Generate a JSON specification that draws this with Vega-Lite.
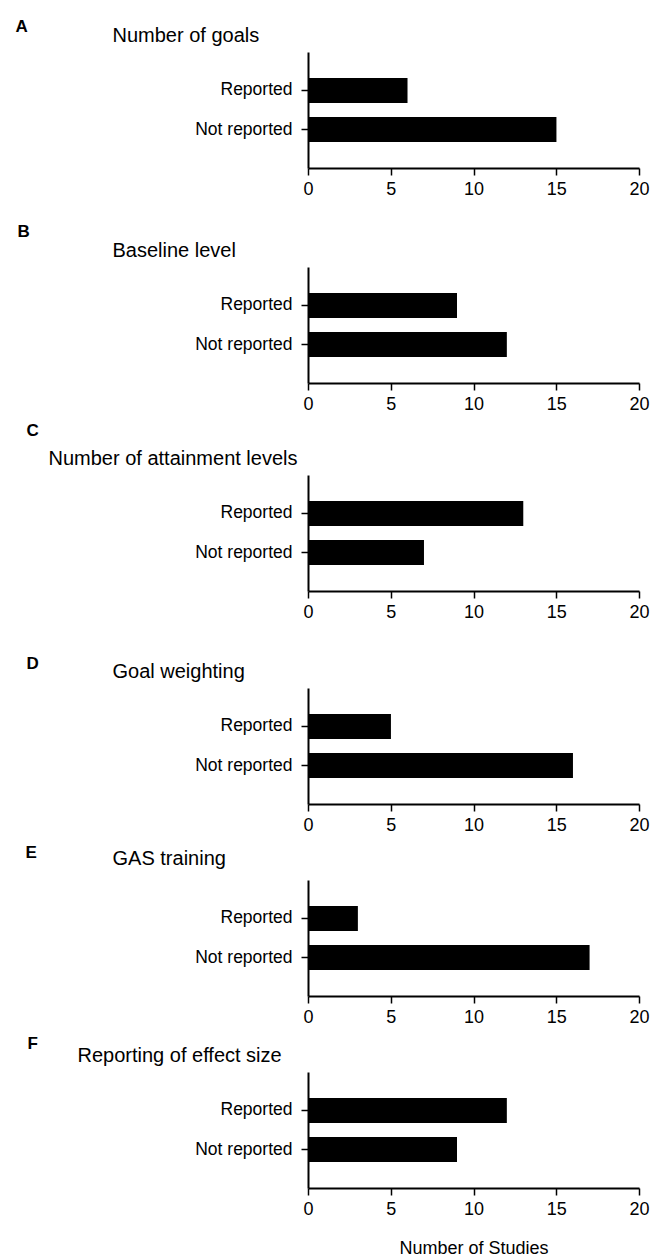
{
  "$schema": "https://vega.github.io/schema/vega-lite/v6.json",
  "padding": {"left": 15, "top": 17, "right": 0, "bottom": 0},
  "spacing": 0,
  "config": {
    "font": "Liberation Sans",
    "view": {"stroke": null},
    "axis": {"grid": false, "domainColor": "black", "tickColor": "black", "labelColor": "black", "titleColor": "black"}
  },
  "vconcat": [
    {
      "data": {"values": [{"status": "Reported", "count": 6}, {"status": "Not reported", "count": 15}]},
      "width": 331, "height": 116,
      "resolve": {"axis": {"x": "independent"}},
      "layer": [
        {
          "mark": {"type": "bar", "color": "black"},
          "encoding": {
            "y": {"field": "status", "type": "nominal", "sort": ["Reported", "Not reported"], "scale": {"paddingInner": 0.36, "paddingOuter": 0.665},
              "axis": {"title": "Number of goals", "titleAngle": 0, "titleAlign": "left", "titleBaseline": "top", "titleX": -196, "titleY": -27, "titleFontSize": 20, "titleFontWeight": "normal", "labelFontSize": 17.5, "labelPadding": 9, "tickSize": 7, "tickWidth": 1.5, "domainWidth": 2}},
            "x": {"field": "count", "type": "quantitative", "scale": {"domain": [0, 20], "nice": false},
              "axis": {"values": [0, 5, 10, 15, 20], "labelFontSize": 18, "labelPadding": 5, "tickSize": 7, "tickWidth": 1.5, "domainWidth": 2, "labelFlush": false, "title": "\u00a0", "titleX": -290, "titleY": 54, "titleAlign": "left", "titleBaseline": "bottom", "titleFontSize": 10}}
          }
        },
        {
          "mark": {"type": "bar", "color": "black"},
          "encoding": {
            "y": {"field": "status", "type": "nominal", "sort": ["Reported", "Not reported"]},
            "x": {"field": "count", "type": "quantitative",
              "axis": {"orient": "top", "domain": false, "ticks": false, "labels": false, "title": "A", "titleX": -293, "titleY": -34, "titleAlign": "left", "titleBaseline": "top", "titleFontSize": 17, "titleFontWeight": "bold"}}
          }
        }
      ]
    },
    {
      "data": {"values": [{"status": "Reported", "count": 9}, {"status": "Not reported", "count": 12}]},
      "width": 331, "height": 116,
      "resolve": {"axis": {"x": "independent"}},
      "layer": [
        {
          "mark": {"type": "bar", "color": "black"},
          "encoding": {
            "y": {"field": "status", "type": "nominal", "sort": ["Reported", "Not reported"], "scale": {"paddingInner": 0.36, "paddingOuter": 0.665},
              "axis": {"title": "Baseline level", "titleAngle": 0, "titleAlign": "left", "titleBaseline": "top", "titleX": -196, "titleY": -27, "titleFontSize": 20, "titleFontWeight": "normal", "labelFontSize": 17.5, "labelPadding": 9, "tickSize": 7, "tickWidth": 1.5, "domainWidth": 2}},
            "x": {"field": "count", "type": "quantitative", "scale": {"domain": [0, 20], "nice": false},
              "axis": {"values": [0, 5, 10, 15, 20], "labelFontSize": 18, "labelPadding": 5, "tickSize": 7, "tickWidth": 1.5, "domainWidth": 2, "labelFlush": false, "title": "\u00a0", "titleX": -290, "titleY": 38, "titleAlign": "left", "titleBaseline": "bottom", "titleFontSize": 10}}
          }
        },
        {
          "mark": {"type": "bar", "color": "black"},
          "encoding": {
            "y": {"field": "status", "type": "nominal", "sort": ["Reported", "Not reported"]},
            "x": {"field": "count", "type": "quantitative",
              "axis": {"orient": "top", "domain": false, "ticks": false, "labels": false, "title": "B", "titleX": -291, "titleY": -44, "titleAlign": "left", "titleBaseline": "top", "titleFontSize": 17, "titleFontWeight": "bold"}}
          }
        }
      ]
    },
    {
      "data": {"values": [{"status": "Reported", "count": 13}, {"status": "Not reported", "count": 7}]},
      "width": 331, "height": 116,
      "resolve": {"axis": {"x": "independent"}},
      "layer": [
        {
          "mark": {"type": "bar", "color": "black"},
          "encoding": {
            "y": {"field": "status", "type": "nominal", "sort": ["Reported", "Not reported"], "scale": {"paddingInner": 0.36, "paddingOuter": 0.665},
              "axis": {"title": "Number of attainment levels", "titleAngle": 0, "titleAlign": "left", "titleBaseline": "top", "titleX": -260, "titleY": -27, "titleFontSize": 20, "titleFontWeight": "normal", "labelFontSize": 17.5, "labelPadding": 9, "tickSize": 7, "tickWidth": 1.5, "domainWidth": 2}},
            "x": {"field": "count", "type": "quantitative", "scale": {"domain": [0, 20], "nice": false},
              "axis": {"values": [0, 5, 10, 15, 20], "labelFontSize": 18, "labelPadding": 5, "tickSize": 7, "tickWidth": 1.5, "domainWidth": 2, "labelFlush": false, "title": "\u00a0", "titleX": -290, "titleY": 63, "titleAlign": "left", "titleBaseline": "bottom", "titleFontSize": 10}}
          }
        },
        {
          "mark": {"type": "bar", "color": "black"},
          "encoding": {
            "y": {"field": "status", "type": "nominal", "sort": ["Reported", "Not reported"]},
            "x": {"field": "count", "type": "quantitative",
              "axis": {"orient": "top", "domain": false, "ticks": false, "labels": false, "title": "C", "titleX": -282, "titleY": -53, "titleAlign": "left", "titleBaseline": "top", "titleFontSize": 17, "titleFontWeight": "bold"}}
          }
        }
      ]
    },
    {
      "data": {"values": [{"status": "Reported", "count": 5}, {"status": "Not reported", "count": 16}]},
      "width": 331, "height": 116,
      "resolve": {"axis": {"x": "independent"}},
      "layer": [
        {
          "mark": {"type": "bar", "color": "black"},
          "encoding": {
            "y": {"field": "status", "type": "nominal", "sort": ["Reported", "Not reported"], "scale": {"paddingInner": 0.36, "paddingOuter": 0.665},
              "axis": {"title": "Goal weighting", "titleAngle": 0, "titleAlign": "left", "titleBaseline": "top", "titleX": -196, "titleY": -27, "titleFontSize": 20, "titleFontWeight": "normal", "labelFontSize": 17.5, "labelPadding": 9, "tickSize": 7, "tickWidth": 1.5, "domainWidth": 2}},
            "x": {"field": "count", "type": "quantitative", "scale": {"domain": [0, 20], "nice": false},
              "axis": {"values": [0, 5, 10, 15, 20], "labelFontSize": 18, "labelPadding": 5, "tickSize": 7, "tickWidth": 1.5, "domainWidth": 2, "labelFlush": false, "title": "\u00a0", "titleX": -290, "titleY": 39, "titleAlign": "left", "titleBaseline": "bottom", "titleFontSize": 10}}
          }
        },
        {
          "mark": {"type": "bar", "color": "black"},
          "encoding": {
            "y": {"field": "status", "type": "nominal", "sort": ["Reported", "Not reported"]},
            "x": {"field": "count", "type": "quantitative",
              "axis": {"orient": "top", "domain": false, "ticks": false, "labels": false, "title": "D", "titleX": -282, "titleY": -33, "titleAlign": "left", "titleBaseline": "top", "titleFontSize": 17, "titleFontWeight": "bold"}}
          }
        }
      ]
    },
    {
      "data": {"values": [{"status": "Reported", "count": 3}, {"status": "Not reported", "count": 17}]},
      "width": 331, "height": 116,
      "resolve": {"axis": {"x": "independent"}},
      "layer": [
        {
          "mark": {"type": "bar", "color": "black"},
          "encoding": {
            "y": {"field": "status", "type": "nominal", "sort": ["Reported", "Not reported"], "scale": {"paddingInner": 0.36, "paddingOuter": 0.665},
              "axis": {"title": "GAS training", "titleAngle": 0, "titleAlign": "left", "titleBaseline": "top", "titleX": -196, "titleY": -32, "titleFontSize": 20, "titleFontWeight": "normal", "labelFontSize": 17.5, "labelPadding": 9, "tickSize": 7, "tickWidth": 1.5, "domainWidth": 2}},
            "x": {"field": "count", "type": "quantitative", "scale": {"domain": [0, 20], "nice": false},
              "axis": {"values": [0, 5, 10, 15, 20], "labelFontSize": 18, "labelPadding": 5, "tickSize": 7, "tickWidth": 1.5, "domainWidth": 2, "labelFlush": false, "title": "\u00a0", "titleX": -290, "titleY": 38, "titleAlign": "left", "titleBaseline": "bottom", "titleFontSize": 10}}
          }
        },
        {
          "mark": {"type": "bar", "color": "black"},
          "encoding": {
            "y": {"field": "status", "type": "nominal", "sort": ["Reported", "Not reported"]},
            "x": {"field": "count", "type": "quantitative",
              "axis": {"orient": "top", "domain": false, "ticks": false, "labels": false, "title": "E", "titleX": -283, "titleY": -36, "titleAlign": "left", "titleBaseline": "top", "titleFontSize": 17, "titleFontWeight": "bold"}}
          }
        }
      ]
    },
    {
      "data": {"values": [{"status": "Reported", "count": 12}, {"status": "Not reported", "count": 9}]},
      "width": 331, "height": 116,
      "resolve": {"axis": {"x": "independent"}},
      "layer": [
        {
          "mark": {"type": "bar", "color": "black"},
          "encoding": {
            "y": {"field": "status", "type": "nominal", "sort": ["Reported", "Not reported"], "scale": {"paddingInner": 0.36, "paddingOuter": 0.665},
              "axis": {"title": "Reporting of effect size", "titleAngle": 0, "titleAlign": "left", "titleBaseline": "top", "titleX": -231, "titleY": -27, "titleFontSize": 20, "titleFontWeight": "normal", "labelFontSize": 17.5, "labelPadding": 9, "tickSize": 7, "tickWidth": 1.5, "domainWidth": 2}},
            "x": {"field": "count", "type": "quantitative", "scale": {"domain": [0, 20], "nice": false},
              "axis": {"values": [0, 5, 10, 15, 20], "labelFontSize": 18, "labelPadding": 5, "tickSize": 7, "tickWidth": 1.5, "domainWidth": 2, "labelFlush": false, "title": "Number of Studies", "titleY": 51, "titleBaseline": "top", "titleFontSize": 18, "titleFontWeight": "normal"}}
          }
        },
        {
          "mark": {"type": "bar", "color": "black"},
          "encoding": {
            "y": {"field": "status", "type": "nominal", "sort": ["Reported", "Not reported"]},
            "x": {"field": "count", "type": "quantitative",
              "axis": {"orient": "top", "domain": false, "ticks": false, "labels": false, "title": "F", "titleX": -281, "titleY": -37, "titleAlign": "left", "titleBaseline": "top", "titleFontSize": 17, "titleFontWeight": "bold"}}
          }
        }
      ]
    }
  ]
}
